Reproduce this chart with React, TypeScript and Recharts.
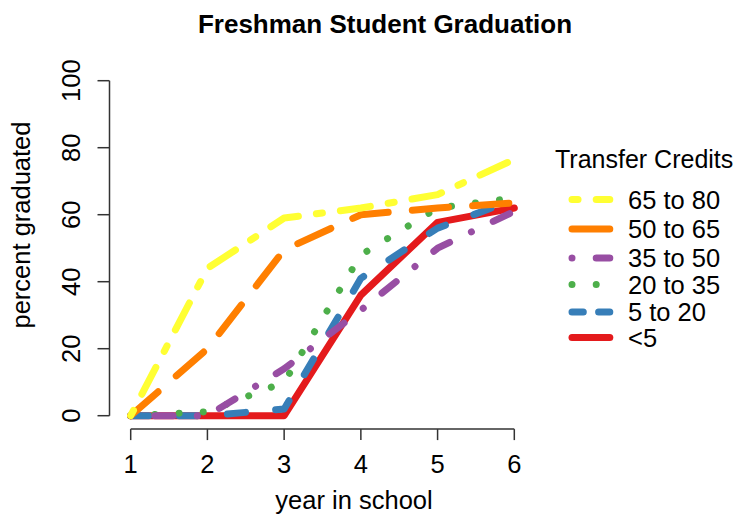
import React from 'react';
import { LineChart, Line, XAxis, YAxis, ReferenceLine, Legend, Customized } from 'recharts';

// ---- data ----
const years = [1, 2, 3, 4, 5, 6];
const seriesLabels = ['65 to 80', '50 to 65', '35 to 50', '20 to 35', '5 to 20', '<5'];
const credits65to80 = [0, 44, 59, 62, 66, 76.5];
const credits50to65 = [0, 20, 49.5, 60, 62, 63.5];
const credits35to50 = [0, 0, 14, 31.5, 50, 61];
const credits20to35 = [0, 1.2, 10, 48, 62, 65];
const credits5to20 = [0, 0, 2, 41, 56, 64.5];
const creditsUnder5 = [0, 0, 0, 36, 57.7, 62];
const xTicks = [1, 2, 3, 4, 5, 6];
const yTicks = [0, 20, 40, 60, 80, 100];

const data = years.map((yr, i) => ({
  year: yr,
  s65to80: credits65to80[i],
  s50to65: credits50to65[i],
  s35to50: credits35to50[i],
  s20to35: credits20to35[i],
  s5to20: credits5to20[i],
  sUnder5: creditsUnder5[i],
}));

// ---- styles ----
const FONT = '"Liberation Sans", Arial, Helvetica, sans-serif';
const U = 6.05;
const SW = 7;
const AXIS = '#333';

const series = [
  // drawn first -> bottom
  { key: 'sUnder5', label: seriesLabels[5], color: '#E41A1C', dash: undefined as string | undefined, legendDash: undefined as string | undefined },
  { key: 's5to20', label: seriesLabels[4], color: '#377EB8', dash: `${3 * U} ${5 * U}`, legendDash: '11.3 15.3' },
  { key: 's20to35', label: seriesLabels[3], color: '#4DAF4A', dash: `0.01 ${4 * U}`, legendDash: `0.01 ${4 * U}` },
  { key: 's35to50', label: seriesLabels[2], color: '#984EA3', dash: `0.01 ${4 * U} ${3 * U} ${4 * U}`, legendDash: `0.01 ${4 * U} ${3 * U} ${4 * U}` },
  { key: 's50to65', label: seriesLabels[1], color: '#FF7F00', dash: `${6 * U} ${4 * U}`, legendDash: undefined },
  { key: 's65to80', label: seriesLabels[0], color: '#FFFF33', dash: `${U} ${3 * U} ${5 * U} ${3 * U}`, legendDash: `${U} ${3 * U} ${5 * U} ${3 * U}` },
];

const legendOrder = ['s65to80', 's50to65', 's35to50', 's20to35', 's5to20', 'sUnder5'];
const legendCenters = [191.5, 221, 250, 276.5, 304, 329.5];

const YTick = (props: any) => {
  const { y, payload } = props;
  const bx = 72;
  return (
    <text
      x={bx}
      y={y}
      transform={`rotate(-90, ${bx}, ${y})`}
      textAnchor="middle"
      fontFamily={FONT}
      fontSize={25.5}
      fill="#000"
    >
      {payload.value}
    </text>
  );
};

const XTick = (props: any) => {
  const { x, payload } = props;
  return (
    <text x={x} y={464.7} textAnchor="middle" fontFamily={FONT} fontSize={25.5} fill="#000">
      {payload.value}
    </text>
  );
};

const Titles = () => (
  <g>
    <text x={377} y={25} textAnchor="middle" fontFamily={FONT} fontSize={26} fontWeight="bold" fill="#000">
      Freshman Student Graduation
    </text>
    <text x={346} y={501} textAnchor="middle" fontFamily={FONT} fontSize={25.5} fill="#000">
      year in school
    </text>
    <text
      x={22}
      y={217}
      transform="rotate(-90, 22, 217)"
      textAnchor="middle"
      fontFamily={FONT}
      fontSize={25.5}
      fill="#000"
    >
      percent graduated
    </text>
  </g>
);

const LegendContent = () => (
  <svg width={743} height={516} style={{ position: 'absolute', left: 0, top: 0, pointerEvents: 'none' }}>
    <text x={547} y={160.3} fontFamily={FONT} fontSize={25} fill="#000">
      Transfer Credits
    </text>
    {legendOrder.map((k, i) => {
      const s = series.find((d) => d.key === k)!;
      const cy = legendCenters[i];
      return (
        <g key={k}>
          <line
            x1={564}
            x2={601.8}
            y1={cy}
            y2={cy}
            stroke={s.color}
            strokeWidth={SW}
            strokeLinecap="round"
            strokeDasharray={s.legendDash}
          />
          <text x={620} y={cy + 9.2} fontFamily={FONT} fontSize={25.5} fill="#000">
            {s.label}
          </text>
        </g>
      );
    })}
  </svg>
);

export default function App() {
  return (
    <div style={{ width: 743, height: 516, position: 'relative' }}>
      <LineChart
        width={743}
        height={516}
        data={data}
        margin={{ top: 59.3, right: 221.35, bottom: 34.9, left: 0 }}
      >
        <XAxis
          dataKey="year"
          type="number"
          domain={[0.7237, 6.2]}
          allowDataOverflow
          ticks={xTicks}
          axisLine={false}
          tickLine={{ stroke: AXIS, strokeWidth: 1.5 }}
          tickSize={11}
          height={60}
          tick={<XTick />}
          interval={0}
        />
        <YAxis
          type="number"
          domain={[-4, 104]}
          allowDataOverflow
          ticks={yTicks}
          axisLine={false}
          tickLine={{ stroke: AXIS, strokeWidth: 1.5 }}
          tickSize={12}
          width={101.5}
          tick={<YTick />}
          interval={0}
        />
        <ReferenceLine
          segment={[{ x: 1, y: -4 }, { x: 6, y: -4 }]}
          stroke={AXIS}
          strokeWidth={1.5}
          ifOverflow="visible"
        />
        <ReferenceLine
          segment={[{ x: 0.7237, y: 0 }, { x: 0.7237, y: 100 }]}
          stroke={AXIS}
          strokeWidth={1.5}
          ifOverflow="visible"
        />
        {series.map((s) => (
          <Line
            key={s.key}
            dataKey={s.key}
            type="linear"
            stroke={s.color}
            strokeWidth={SW}
            strokeDasharray={s.dash}
            strokeLinecap="round"
            strokeLinejoin="round"
            dot={false}
            activeDot={false}
            isAnimationActive={false}
          />
        ))}
        <Customized component={<Titles />} />
        <Legend
          layout="vertical"
          align="center"
          verticalAlign="middle"
          content={<LegendContent />}
          wrapperStyle={{ left: 0, top: 0, width: 743, height: 516 }}
        />
      </LineChart>
    </div>
  );
}
